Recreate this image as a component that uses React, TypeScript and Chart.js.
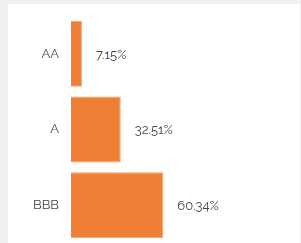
import React, { useEffect, useRef } from "react";
import { Chart, registerables } from "chart.js";

Chart.register(...registerables);

const categories = ["AA", "A", "BBB"];
const values = [7.15, 32.51, 60.34];
const valueLabels = ["7.15%", "32.51%", "60.34%"];

const FONT = "Raleway, Lato, 'Open Sans', sans-serif";

const valueLabelPlugin = {
  id: "valueLabels",
  afterDatasetsDraw(chart: any) {
    const ctx = chart.ctx;
    const meta = chart.getDatasetMeta(0);
    ctx.save();
    ctx.font = `normal 13px ${FONT}`;
    ctx.fillStyle = "#444444";
    ctx.textAlign = "left";
    ctx.textBaseline = "middle";
    meta.data.forEach((bar: any, i: number) => {
      ctx.fillText(valueLabels[i], bar.x + 14, bar.y + 1);
    });
    ctx.restore();
  },
};

export default function App() {
  const ref = useRef<HTMLCanvasElement>(null);
  useEffect(() => {
    document.body.style.background = "#f0efed";
    const chart = new Chart(ref.current!, {
      type: "bar",
      data: {
        labels: categories,
        datasets: [
          {
            data: values,
            backgroundColor: "#EE7F34",
            borderColor: "#F3A068",
            borderWidth: 1,
            categoryPercentage: 1,
            barPercentage: 0.872,
          },
        ],
      },
      options: {
        indexAxis: "y",
        animation: false,
        responsive: false,
        maintainAspectRatio: false,
        layout: { padding: { top: 12, bottom: 0, left: 0, right: 76 } },
        plugins: { legend: { display: false }, tooltip: { enabled: false } },
        scales: {
          x: { display: false, min: 0, max: 100 },
          y: {
            grid: { display: false, drawTicks: false },
            border: { display: false },
            ticks: {
              padding: 12,
              color: "#444444",
              font: { family: FONT, size: 13, weight: "normal" as any },
            },
            afterFit: (scale: any) => {
              scale.width = 63;
              scale.paddingTop = 0;
              scale.paddingBottom = 0;
            },
          },
        },
      },
      plugins: [valueLabelPlugin],
    });
    return () => chart.destroy();
  }, []);
  return (
    <div
      style={{
        position: "absolute",
        left: 8,
        top: 4,
        width: 292,
        height: 239,
        background: "#ffffff",
      }}
    >
      <canvas ref={ref} width={292} height={239} style={{ display: "block" }} />
    </div>
  );
}
